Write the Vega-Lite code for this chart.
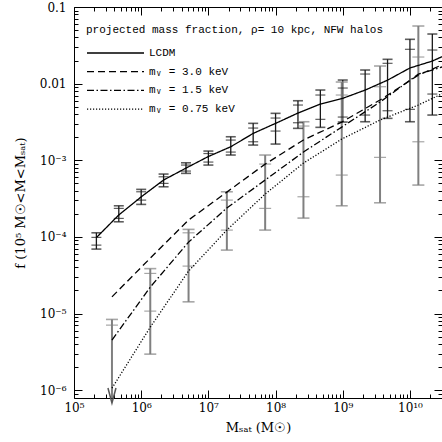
{
  "$schema": "https://vega.github.io/schema/vega-lite/v6.json",
  "width": 368,
  "height": 391,
  "autosize": "none",
  "padding": {"left": 74, "top": 7, "right": 0, "bottom": 44},
  "background": "white",
  "config": {
    "font": "DejaVu Serif",
    "view": {"stroke": null},
    "axis": {
      "grid": false, "domainColor": "black", "domainWidth": 1, "tickColor": "black", "tickWidth": 1,
      "labelColor": "black", "titleColor": "black", "labelFont": "DejaVu Serif", "titleFont": "DejaVu Serif",
      "labelFontSize": 12, "titleFontSize": 13, "titleFontWeight": "normal", "labelOverlap": false, "labelFlush": false
    }
  },
  "datasets": {
    "curves": [
      {"model": "LCDM", "M": 2.154e5, "f": 9.8e-5},
      {"model": "LCDM", "M": 4.642e5, "f": 1.93e-4},
      {"model": "LCDM", "M": 1e6, "f": 3.33e-4},
      {"model": "LCDM", "M": 2.154e6, "f": 5.52e-4},
      {"model": "LCDM", "M": 4.642e6, "f": 7.9e-4},
      {"model": "LCDM", "M": 1e7, "f": 1.12e-3},
      {"model": "LCDM", "M": 2.154e7, "f": 1.5e-3},
      {"model": "LCDM", "M": 4.642e7, "f": 2.24e-3},
      {"model": "LCDM", "M": 1e8, "f": 3.03e-3},
      {"model": "LCDM", "M": 2.154e8, "f": 4.13e-3},
      {"model": "LCDM", "M": 4.642e8, "f": 5.42e-3},
      {"model": "LCDM", "M": 1e9, "f": 6.43e-3},
      {"model": "LCDM", "M": 2.154e9, "f": 8.24e-3},
      {"model": "LCDM", "M": 4.642e9, "f": 1.11e-2},
      {"model": "LCDM", "M": 1e10, "f": 1.6e-2},
      {"model": "LCDM", "M": 2.154e10, "f": 1.97e-2},
      {"model": "LCDM", "M": 4.642e10, "f": 2.67e-2},
      {"model": "mᵥ = 3.0 keV", "M": 3.673e5, "f": 1.65e-5},
      {"model": "mᵥ = 3.0 keV", "M": 1.365e6, "f": 5.28e-5},
      {"model": "mᵥ = 3.0 keV", "M": 5.07e6, "f": 1.66e-4},
      {"model": "mᵥ = 3.0 keV", "M": 1.884e7, "f": 3.84e-4},
      {"model": "mᵥ = 3.0 keV", "M": 7.0e7, "f": 8.91e-4},
      {"model": "mᵥ = 3.0 keV", "M": 2.6e8, "f": 1.84e-3},
      {"model": "mᵥ = 3.0 keV", "M": 9.66e8, "f": 3.15e-3},
      {"model": "mᵥ = 3.0 keV", "M": 3.589e9, "f": 6.11e-3},
      {"model": "mᵥ = 3.0 keV", "M": 1.334e10, "f": 1.29e-2},
      {"model": "mᵥ = 3.0 keV", "M": 4.955e10, "f": 2.13e-2},
      {"model": "mᵥ = 1.5 keV", "M": 3.673e5, "f": 4.5e-6},
      {"model": "mᵥ = 1.5 keV", "M": 1.365e6, "f": 2.21e-5},
      {"model": "mᵥ = 1.5 keV", "M": 5.07e6, "f": 8.55e-5},
      {"model": "mᵥ = 1.5 keV", "M": 1.884e7, "f": 2.38e-4},
      {"model": "mᵥ = 1.5 keV", "M": 7.0e7, "f": 5.52e-4},
      {"model": "mᵥ = 1.5 keV", "M": 2.6e8, "f": 1.28e-3},
      {"model": "mᵥ = 1.5 keV", "M": 9.66e8, "f": 2.71e-3},
      {"model": "mᵥ = 1.5 keV", "M": 3.589e9, "f": 5.75e-3},
      {"model": "mᵥ = 1.5 keV", "M": 1.334e10, "f": 1.33e-2},
      {"model": "mᵥ = 1.5 keV", "M": 4.955e10, "f": 1.88e-2},
      {"model": "mᵥ = 0.75 keV", "M": 3.673e5, "f": 1.06e-6},
      {"model": "mᵥ = 0.75 keV", "M": 1.365e6, "f": 6.64e-6},
      {"model": "mᵥ = 0.75 keV", "M": 5.07e6, "f": 3.58e-5},
      {"model": "mᵥ = 0.75 keV", "M": 1.884e7, "f": 1.23e-4},
      {"model": "mᵥ = 0.75 keV", "M": 7.0e7, "f": 3.62e-4},
      {"model": "mᵥ = 0.75 keV", "M": 2.6e8, "f": 9.18e-4},
      {"model": "mᵥ = 0.75 keV", "M": 9.66e8, "f": 1.89e-3},
      {"model": "mᵥ = 0.75 keV", "M": 3.589e9, "f": 3.35e-3},
      {"model": "mᵥ = 0.75 keV", "M": 1.334e10, "f": 5.26e-3},
      {"model": "mᵥ = 0.75 keV", "M": 4.955e10, "f": 9.06e-3}
    ],
    "bars": [
      {"sample": "LCDM", "M": 2.154e5, "hi": 1.131e-4, "lo": 6.93e-5, "ihi": 9.85e-5, "ilo": 7.81e-5, "limit": false},
      {"sample": "LCDM", "M": 4.642e5, "hi": 2.547e-4, "lo": 1.574e-4, "ihi": 2.355e-4, "ilo": 1.742e-4, "limit": false},
      {"sample": "LCDM", "M": 1e6, "hi": 4.169e-4, "lo": 2.655e-4, "ihi": 3.88e-4, "ilo": 3.02e-4, "limit": false},
      {"sample": "LCDM", "M": 2.154e6, "hi": 6.607e-4, "lo": 4.508e-4, "ihi": 6.087e-4, "ilo": 4.993e-4, "limit": false},
      {"sample": "LCDM", "M": 4.642e6, "hi": 9.274e-4, "lo": 6.745e-4, "ihi": 8.655e-4, "ilo": 7.228e-4, "limit": false},
      {"sample": "LCDM", "M": 1e7, "hi": 1.318e-3, "lo": 8.655e-4, "ihi": 1.224e-3, "ilo": 9.473e-4, "limit": false},
      {"sample": "LCDM", "M": 2.154e7, "hi": 2.026e-3, "lo": 1.17e-3, "ihi": 1.835e-3, "ilo": 1.279e-3, "limit": false},
      {"sample": "LCDM", "M": 4.642e7, "hi": 3.032e-3, "lo": 1.579e-3, "ihi": 2.632e-3, "ilo": 1.743e-3, "limit": false},
      {"sample": "LCDM", "M": 1e8, "hi": 4.095e-3, "lo": 1.627e-3, "ihi": 3.556e-3, "ilo": 2.405e-3, "limit": false},
      {"sample": "LCDM", "M": 2.154e8, "hi": 5.98e-3, "lo": 2.609e-3, "ihi": 5.256e-3, "ilo": 3.087e-3, "limit": false},
      {"sample": "LCDM", "M": 4.642e8, "hi": 8.25e-3, "lo": 2.689e-3, "ihi": 7.1e-3, "ilo": 3.419e-3, "limit": false},
      {"sample": "LCDM", "M": 1e9, "hi": 1.114e-2, "lo": 3.153e-3, "ihi": 8.76e-3, "ilo": 3.664e-3, "limit": false},
      {"sample": "LCDM", "M": 2.154e9, "hi": 1.505e-2, "lo": 3.182e-3, "ihi": 1.334e-2, "ilo": 3.89e-3, "limit": false},
      {"sample": "LCDM", "M": 4.642e9, "hi": 2.076e-2, "lo": 3.524e-3, "ihi": 1.841e-2, "ilo": 4.427e-3, "limit": false},
      {"sample": "LCDM", "M": 1e10, "hi": 3.787e-2, "lo": 3.182e-3, "ihi": 2.804e-2, "ilo": 4.618e-3, "limit": false},
      {"sample": "LCDM", "M": 2.154e10, "hi": 4.44e-2, "lo": 3.89e-3, "ihi": 2.745e-2, "ilo": 7.313e-3, "limit": false},
      {"sample": "WDM", "M": 3.673e5, "hi": 8.375e-6, "lo": 7.9e-7, "ihi": 7.056e-6, "ilo": null, "limit": true},
      {"sample": "WDM", "M": 1.365e6, "hi": 3.855e-5, "lo": 2.951e-6, "ihi": 3.337e-5, "ilo": 1.075e-5, "limit": false},
      {"sample": "WDM", "M": 5.07e6, "hi": 1.253e-4, "lo": 1.421e-5, "ihi": 1.131e-4, "ilo": 4.157e-5, "limit": false},
      {"sample": "WDM", "M": 1.884e7, "hi": 3.88e-4, "lo": 6.725e-5, "ihi": 3.022e-4, "ilo": 1.227e-4, "limit": false},
      {"sample": "WDM", "M": 7.0e7, "hi": 1.17e-3, "lo": 1.227e-4, "ihi": 8.92e-4, "ilo": 2.355e-4, "limit": false},
      {"sample": "WDM", "M": 2.6e8, "hi": 3.182e-3, "lo": 1.759e-4, "ihi": 2.796e-3, "ilo": 3.339e-4, "limit": false},
      {"sample": "WDM", "M": 9.66e8, "hi": 1.05e-2, "lo": 2.547e-4, "ihi": 7.1e-3, "ilo": 6.408e-4, "limit": false},
      {"sample": "WDM", "M": 3.589e9, "hi": 1.698e-2, "lo": 2.787e-4, "ihi": 9.11e-3, "ilo": 1.091e-3, "limit": false},
      {"sample": "WDM", "M": 1.334e10, "hi": 5.649e-2, "lo": 4.745e-4, "ihi": 2.224e-2, "ilo": 1.743e-3, "limit": false}
    ]
  },
  "layer": [
    {
      "data": {"name": "bars"},
      "mark": {"type": "rule", "clip": true},
      "encoding": {
        "x": {"field": "M", "type": "quantitative", "scale": {"type": "log", "domain": [1e5, 3e10], "nice": false}, "axis": null},
        "y": {"field": "hi", "type": "quantitative", "scale": {"type": "log", "domain": [7.9e-7, 0.1], "nice": false}, "axis": null},
        "y2": {"field": "lo"},
        "color": {"field": "sample", "type": "nominal", "scale": {"domain": ["LCDM", "WDM"], "range": ["#1a1a1a", "#808080"]}, "legend": null},
        "strokeWidth": {"field": "sample", "type": "nominal", "scale": {"domain": ["LCDM", "WDM"], "range": [1.3, 2.0]}, "legend": null}
      }
    },
    {
      "data": {"name": "bars"},
      "transform": [
        {"fold": ["hi", "lo"], "as": ["end", "v"]},
        {"filter": "!(datum.end == 'lo' && datum.limit)"}
      ],
      "mark": {"type": "tick", "orient": "horizontal", "thickness": 1.6, "clip": true},
      "encoding": {
        "x": {"field": "M", "type": "quantitative", "scale": {"type": "log", "domain": [1e5, 3e10], "nice": false}, "axis": null},
        "y": {"field": "v", "type": "quantitative", "scale": {"type": "log", "domain": [7.9e-7, 0.1], "nice": false}, "axis": null},
        "color": {"field": "sample", "type": "nominal", "scale": {"domain": ["LCDM", "WDM"], "range": ["#1a1a1a", "#808080"]}, "legend": null},
        "size": {"field": "sample", "type": "nominal", "scale": {"domain": ["LCDM", "WDM"], "range": [10, 12]}, "legend": null}
      }
    },
    {
      "data": {"name": "bars"},
      "transform": [
        {"fold": ["ihi", "ilo"], "as": ["end", "v"]},
        {"filter": "isValid(datum.v)"}
      ],
      "mark": {"type": "tick", "orient": "horizontal", "thickness": 1.2, "clip": true},
      "encoding": {
        "x": {"field": "M", "type": "quantitative", "scale": {"type": "log", "domain": [1e5, 3e10], "nice": false}, "axis": null},
        "y": {"field": "v", "type": "quantitative", "scale": {"type": "log", "domain": [7.9e-7, 0.1], "nice": false}, "axis": null},
        "color": {"field": "sample", "type": "nominal", "scale": {"domain": ["LCDM", "WDM"], "range": ["#1a1a1a", "#808080"]}, "legend": null},
        "size": {"field": "sample", "type": "nominal", "scale": {"domain": ["LCDM", "WDM"], "range": [5, 6]}, "legend": null}
      }
    },
    {
      "data": {"name": "bars"},
      "transform": [{"filter": "datum.limit"}],
      "mark": {"type": "point", "shape": "M-0.5,-1.25L0,0.625L0.5,-1.25", "filled": false, "size": 256, "strokeWidth": 1.5, "color": "#555555", "opacity": 1, "clip": false},
      "encoding": {
        "x": {"field": "M", "type": "quantitative", "scale": {"type": "log", "domain": [1e5, 3e10], "nice": false}, "axis": null},
        "y": {"field": "lo", "type": "quantitative", "scale": {"type": "log", "domain": [7.9e-7, 0.1], "nice": false}, "axis": null}
      }
    },
    {
      "data": {"name": "curves"},
      "mark": {"type": "line", "color": "black", "strokeWidth": 1.3, "clip": true},
      "encoding": {
        "x": {
          "field": "M", "type": "quantitative",
          "scale": {"type": "log", "domain": [1e5, 3e10], "nice": false},
          "axis": {
            "orient": "bottom", "title": "Mₛₐₜ (M☉)",
            "values": [1e5,2e5,3e5,4e5,5e5,6e5,7e5,8e5,9e5,1e6,2e6,3e6,4e6,5e6,6e6,7e6,8e6,9e6,1e7,2e7,3e7,4e7,5e7,6e7,7e7,8e7,9e7,1e8,2e8,3e8,4e8,5e8,6e8,7e8,8e8,9e8,1e9,2e9,3e9,4e9,5e9,6e9,7e9,8e9,9e9,1e10,2e10],
            "labelExpr": "abs(log(datum.value)/LN10 - round(log(datum.value)/LN10)) > 0.01 ? '' : ['10⁵','10⁶','10⁷','10⁸','10⁹','10¹⁰'][round(log(datum.value)/LN10) - 5]",
            "tickSize": {"condition": {"test": "abs(log(datum.value)/LN10 - round(log(datum.value)/LN10)) < 0.01", "value": -8}, "value": -4},
            "labelPadding": 12, "titlePadding": 4
          }
        },
        "y": {
          "field": "f", "type": "quantitative",
          "scale": {"type": "log", "domain": [7.9e-7, 0.1], "nice": false},
          "axis": {
            "orient": "left", "title": "f (10⁵ M☉<M<Mₛₐₜ)",
            "values": [9e-7,1e-6,2e-6,3e-6,4e-6,5e-6,6e-6,7e-6,8e-6,9e-6,1e-5,2e-5,3e-5,4e-5,5e-5,6e-5,7e-5,8e-5,9e-5,1e-4,2e-4,3e-4,4e-4,5e-4,6e-4,7e-4,8e-4,9e-4,1e-3,2e-3,3e-3,4e-3,5e-3,6e-3,7e-3,8e-3,9e-3,1e-2,2e-2,3e-2,4e-2,5e-2,6e-2,7e-2,8e-2,9e-2,0.1],
            "labelExpr": "abs(log(datum.value)/LN10 - round(log(datum.value)/LN10)) > 0.01 ? '' : ['10⁻⁶','10⁻⁵','10⁻⁴','10⁻³','0.01','0.1'][round(log(datum.value)/LN10) + 6]",
            "tickSize": {"condition": {"test": "abs(log(datum.value)/LN10 - round(log(datum.value)/LN10)) < 0.01", "value": -8}, "value": -4},
            "labelPadding": 16, "titlePadding": 12
          }
        },
        "strokeDash": {
          "field": "model", "type": "nominal",
          "scale": {"domain": ["LCDM", "mᵥ = 3.0 keV", "mᵥ = 1.5 keV", "mᵥ = 0.75 keV"], "range": [[1, 0], [7, 4], [7, 2.5, 1.5, 2.5], [1.2, 1.8]]},
          "legend": {
            "orient": "none", "legendX": 12, "legendY": 17, "padding": 0,
            "title": "projected mass fraction, ρ= 10 kpc, NFW halos",
            "titleFont": "Liberation Mono", "titleFontSize": 11, "titleFontWeight": "normal", "titleColor": "black", "titlePadding": 7.5, "titleLimit": 0,
            "labelFont": "Liberation Mono", "labelFontSize": 11, "labelColor": "black", "labelOffset": 23, "labelLimit": 0,
            "symbolType": "M-3,0L3,0", "symbolSize": 361, "symbolOffset": 19, "symbolStrokeWidth": 1.3, "symbolStrokeColor": "black", "symbolFillColor": "transparent", "rowPadding": 2.7
          }
        }
      }
    },
    {
      "data": {"name": "curves"},
      "transform": [{"filter": "datum.model == 'LCDM'"}],
      "mark": {"type": "point", "opacity": 0},
      "encoding": {
        "x": {
          "field": "M", "type": "quantitative",
          "scale": {"type": "log", "domain": [1e5, 3e10], "nice": false},
          "axis": {
            "orient": "top", "title": null, "labels": false,
            "values": [1e5,2e5,3e5,4e5,5e5,6e5,7e5,8e5,9e5,1e6,2e6,3e6,4e6,5e6,6e6,7e6,8e6,9e6,1e7,2e7,3e7,4e7,5e7,6e7,7e7,8e7,9e7,1e8,2e8,3e8,4e8,5e8,6e8,7e8,8e8,9e8,1e9,2e9,3e9,4e9,5e9,6e9,7e9,8e9,9e9,1e10,2e10],
            "tickSize": {"condition": {"test": "abs(log(datum.value)/LN10 - round(log(datum.value)/LN10)) < 0.01", "value": -8}, "value": -4}
          }
        },
        "y": {
          "field": "f", "type": "quantitative",
          "scale": {"type": "log", "domain": [7.9e-7, 0.1], "nice": false},
          "axis": {
            "orient": "right", "title": null, "labels": false,
            "values": [9e-7,1e-6,2e-6,3e-6,4e-6,5e-6,6e-6,7e-6,8e-6,9e-6,1e-5,2e-5,3e-5,4e-5,5e-5,6e-5,7e-5,8e-5,9e-5,1e-4,2e-4,3e-4,4e-4,5e-4,6e-4,7e-4,8e-4,9e-4,1e-3,2e-3,3e-3,4e-3,5e-3,6e-3,7e-3,8e-3,9e-3,1e-2,2e-2,3e-2,4e-2,5e-2,6e-2,7e-2,8e-2,9e-2,0.1],
            "tickSize": {"condition": {"test": "abs(log(datum.value)/LN10 - round(log(datum.value)/LN10)) < 0.01", "value": -8}, "value": -4}
          }
        }
      }
    }
  ],
  "resolve": {"axis": {"x": "independent", "y": "independent"}}
}
